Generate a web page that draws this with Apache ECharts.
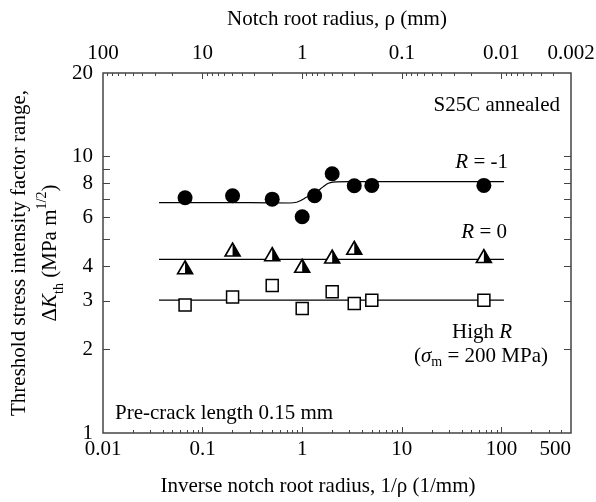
<!DOCTYPE html>
<html>
<head>
<meta charset="utf-8">
<script src="https://cdn.jsdelivr.net/npm/echarts@6/dist/echarts.min.js"></script>
<style>
  html, body { margin: 0; padding: 0; background: #fff; }
  #chart { width: 596px; height: 502px; }
</style>
</head>
<body>
<div id="chart"></div>
<script>
// R = -1 (filled circles)
const invRadiusRm1 = [0.0667, 0.2, 0.5, 1, 1.333, 2, 3.333, 5, 66.7];
const kthRm1 = [7.08, 7.2, 7.0, 6.05, 7.2, 8.65, 7.83, 7.85, 7.85];
// fitted curve for R = -1
const curveX = [0.0365, 0.3, 0.75, 0.88, 0.99, 1.1, 1.34, 1.63, 1.83, 2.04, 3, 106];
const curveY = [6.8, 6.8, 6.78, 6.82, 6.95, 7.11, 7.35, 7.77, 7.99, 8.07, 8.1, 8.1];
// R = 0 (half filled triangles)
const invRadiusR0 = [0.0667, 0.2, 0.5, 1, 2, 3.333, 66.7];
const kthR0 = [3.97, 4.6, 4.43, 4.02, 4.34, 4.67, 4.36];
const lineR0 = 4.24;
// High R (open squares)
const invRadiusHigh = [0.0667, 0.2, 0.5, 1, 2, 3.333, 5, 66.7];
const kthHigh = [2.9, 3.1, 3.41, 2.82, 3.24, 2.94, 3.02, 3.02];
const lineHigh = 3.02;
const lineX = [0.0365, 106];

// tick labels
const xLabels = [0.01, 0.1, 1, 10, 100, 500];
const xMajor = [0.1, 1, 10, 100];
const yLabels = [1, 2, 3, 4, 6, 8, 10, 20];
const yTicks = [2, 3, 4, 5, 6, 7, 8, 9, 10];

const FONT = '"Liberation Serif", "Times New Roman", serif';
const FS = 21;
const AXIS_COLOR = '#444';

// minor ticks (2..9 per decade) for bottom axis, and for rho on top axis
let xMinor = [];
for (let e = -2; e <= 2; e++) {
  for (let k = 2; k <= 9; k++) {
    const v = parseFloat((k * Math.pow(10, e)).toPrecision(6));
    if (v < 500) xMinor.push(v);
  }
}
let topMinor = [];
for (let e = -3; e <= 1; e++) {
  for (let k = 2; k <= 9; k++) {
    const rho = k * Math.pow(10, e);
    if (rho > 0.0021 && rho < 100) topMinor.push(1 / rho);
  }
}

const pair = (xs, ys) => xs.map((x, i) => [x, ys[i]]);
const rhoFmt = v => String(parseFloat((1 / v).toPrecision(3)));

function xAxisDef(pos, ticks, len, labels, fmt) {
  return {
    type: 'log', logBase: 10, min: 0.01, max: 500, position: pos,
    axisLine: { show: false },
    splitLine: { show: false },
    axisTick: { show: true, inside: true, length: len, customValues: ticks,
      lineStyle: { color: AXIS_COLOR, width: 1 } },
    axisLabel: labels ? { show: true, customValues: labels, formatter: fmt,
      fontFamily: FONT, fontSize: FS, color: '#000', margin: pos === 'bottom' ? 6 : 9,
      alignMaxLabel: pos === 'bottom' ? 'right' : 'center' } : { show: false }
  };
}

const myChart = echarts.init(document.getElementById('chart'));

const option = {
  backgroundColor: '#fff',
  animation: false,
  grid: { left: 103, right: 25, top: 73, bottom: 69, outerBoundsMode: 'none',
    show: true, borderColor: AXIS_COLOR, borderWidth: 1.5, backgroundColor: 'transparent' },
  xAxis: [
    Object.assign(xAxisDef('bottom', xMajor, 6, xLabels, v => String(v)), {
      name: 'Inverse notch root radius, 1/ρ (1/mm)', nameLocation: 'middle', nameGap: 43,
      nameMoveOverlap: false,
      nameTextStyle: { fontFamily: FONT, fontSize: FS, color: '#000', padding: [0, 38, 0, 0] }
    }),
    xAxisDef('bottom', xMinor, 3, null),
    Object.assign(xAxisDef('top', xMajor, 6, xLabels, rhoFmt), {
      name: 'Notch root radius, ρ (mm)', nameLocation: 'middle', nameGap: 43,
      nameMoveOverlap: false,
      nameTextStyle: { fontFamily: FONT, fontSize: FS, color: '#000' }
    }),
    xAxisDef('top', topMinor, 3, null)
  ],
  yAxis: [
    {
      type: 'log', logBase: 10, min: 1, max: 20, position: 'left',
      axisLine: { show: false }, splitLine: { show: false },
      axisTick: { show: true, inside: true, length: 7, customValues: yTicks,
        lineStyle: { color: AXIS_COLOR, width: 1 } },
      axisLabel: { customValues: yLabels, fontFamily: FONT, fontSize: FS, color: '#000', margin: 10 },
      name: '{t|Threshold stress intensity factor range,}\n{t|Δ}{i|K}{s|th}{t| (MPa m}{u|1/2}{t|)}',
      nameLocation: 'middle', nameGap: 37, nameMoveOverlap: false,
      nameTextStyle: {
        rich: {
          t: { fontFamily: FONT, fontSize: FS, color: '#000', lineHeight: 31 },
          i: { fontFamily: FONT, fontSize: FS, color: '#000', fontStyle: 'italic', lineHeight: 31 },
          s: { fontFamily: FONT, fontSize: 14, color: '#000', lineHeight: 18, verticalAlign: 'bottom' },
          u: { fontFamily: FONT, fontSize: 14, color: '#000', lineHeight: 14, verticalAlign: 'top' }
        }
      }
    },
    {
      type: 'log', logBase: 10, min: 1, max: 20, position: 'right',
      axisLine: { show: false }, splitLine: { show: false },
      axisTick: { show: true, inside: true, length: 7, customValues: yTicks,
        lineStyle: { color: AXIS_COLOR, width: 1 } },
      axisLabel: { show: false }
    }
  ],
  series: [
    {
      type: 'line', data: pair(curveX, curveY), smooth: 0.3, symbol: 'none',
      lineStyle: { color: '#000', width: 1.2 }, z: 2
    },
    {
      type: 'line', data: pair(lineX, [lineR0, lineR0]), symbol: 'none',
      lineStyle: { color: '#000', width: 1.2 }, z: 2
    },
    {
      type: 'line', data: pair(lineX, [lineHigh, lineHigh]), symbol: 'none',
      lineStyle: { color: '#000', width: 1.2 }, z: 2
    },
    {
      type: 'scatter', data: pair(invRadiusRm1, kthRm1), symbol: 'circle', symbolSize: 15,
      itemStyle: { color: '#000', opacity: 1 }, z: 3
    },
    {
      type: 'scatter', data: pair(invRadiusR0, kthR0), symbol: 'triangle', symbolSize: [15, 13],
      itemStyle: { color: '#fff', borderColor: '#000', borderWidth: 1.6, opacity: 1 }, z: 3
    },
    {
      // black right half of each triangle
      type: 'scatter', data: pair(invRadiusR0, kthR0), symbol: 'path://M0,0 L1,1 L0,1 Z',
      symbolSize: [7.5, 13], symbolOffset: [3.75, 0],
      itemStyle: { color: '#000', opacity: 1 }, z: 4
    },
    {
      type: 'scatter', data: pair(invRadiusHigh, kthHigh), symbol: 'rect', symbolSize: 12,
      itemStyle: { color: '#fff', borderColor: '#000', borderWidth: 1.5, opacity: 1 }, z: 3
    }
  ],
  graphic: [
    { type: 'text', x: 560, y: 105, style: { text: 'S25C annealed', font: FS + 'px ' + FONT,
      fill: '#000', align: 'right', verticalAlign: 'middle' } },
    { type: 'text', x: 508, y: 162, style: { text: '{i|R}{n| = -1}', align: 'right', verticalAlign: 'middle',
      rich: { i: { fontFamily: FONT, fontSize: FS, fontStyle: 'italic', fill: '#000' },
              n: { fontFamily: FONT, fontSize: FS, fill: '#000' } } } },
    { type: 'text', x: 507, y: 232, style: { text: '{i|R}{n| = 0}', align: 'right', verticalAlign: 'middle',
      rich: { i: { fontFamily: FONT, fontSize: FS, fontStyle: 'italic', fill: '#000' },
              n: { fontFamily: FONT, fontSize: FS, fill: '#000' } } } },
    { type: 'text', x: 482, y: 332, style: { text: '{n|High }{i|R}', align: 'center', verticalAlign: 'middle',
      rich: { i: { fontFamily: FONT, fontSize: FS, fontStyle: 'italic', fill: '#000' },
              n: { fontFamily: FONT, fontSize: FS, fill: '#000' } } } },
    { type: 'text', x: 481, y: 356, style: { text: '{n|(}{i|σ}{s|m}{n| = 200 MPa)}', align: 'center', verticalAlign: 'middle',
      rich: { i: { fontFamily: FONT, fontSize: FS, fontStyle: 'italic', fill: '#000', lineHeight: 26 },
              n: { fontFamily: FONT, fontSize: FS, fill: '#000', lineHeight: 26 },
              s: { fontFamily: FONT, fontSize: 14, fill: '#000', lineHeight: 16, verticalAlign: 'bottom' } } } },
    { type: 'text', x: 115, y: 413, style: { text: 'Pre-crack length 0.15 mm', font: FS + 'px ' + FONT,
      fill: '#000', align: 'left', verticalAlign: 'middle' } }
  ]
};

myChart.setOption(option);
</script>
</body>
</html>
